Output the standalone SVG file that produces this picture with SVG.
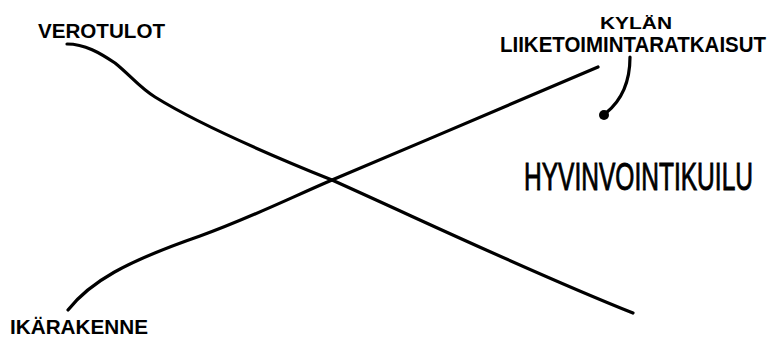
<svg xmlns="http://www.w3.org/2000/svg" width="778" height="337" viewBox="0 0 778 337">
<style>
.lbl{font-family:"Liberation Sans",Arial,sans-serif;font-weight:bold;fill:#000}
.big{font-family:"Liberation Sans",Arial,sans-serif;font-weight:normal;fill:#000;stroke:#000;stroke-width:0.6}
.ln{fill:none;stroke:#000;stroke-width:3.2;stroke-linecap:round}
</style>
<rect width="778" height="337" fill="#fff"/>
<g id="connectors">
<path class="ln" d="M67,44 C85,44 100,53 115,63 C130,75 140,88 155,97 C200,125 270,155 332,180 C430,224 530,272 633,313"/>
<path class="ln" d="M68,310 C90,282 125,262 200,236 C250,218 290,198 332,180 C420,143 520,100 598,67"/>
<path class="ln" d="M630,57 C630,82 622,100 606,113"/>
<circle cx="604" cy="115" r="5" fill="#000"/>
</g>
<g id="verotulot"><text class="lbl" x="38" y="38" font-size="20.5" textLength="127" lengthAdjust="spacingAndGlyphs">VEROTULOT</text></g>
<g id="kylan"><text class="lbl" x="600" y="29" font-size="17" textLength="72" lengthAdjust="spacingAndGlyphs">KYLÄN</text>
<text class="lbl" transform="translate(500,52) scale(1,1.1)" x="0" y="0" font-size="20.2" textLength="266" lengthAdjust="spacingAndGlyphs">LIIKETOIMINTARATKAISUT</text></g>
<g id="hyvinvointikuilu"><text class="big" transform="translate(524,190) scale(1,1.55)" x="0" y="0" font-size="24.6" textLength="229" lengthAdjust="spacingAndGlyphs">HYVINVOINTIKUILU</text></g>
<g id="ikarakenne"><text class="lbl" x="10" y="334" font-size="21" textLength="138" lengthAdjust="spacingAndGlyphs">IKÄRAKENNE</text></g>
</svg>
